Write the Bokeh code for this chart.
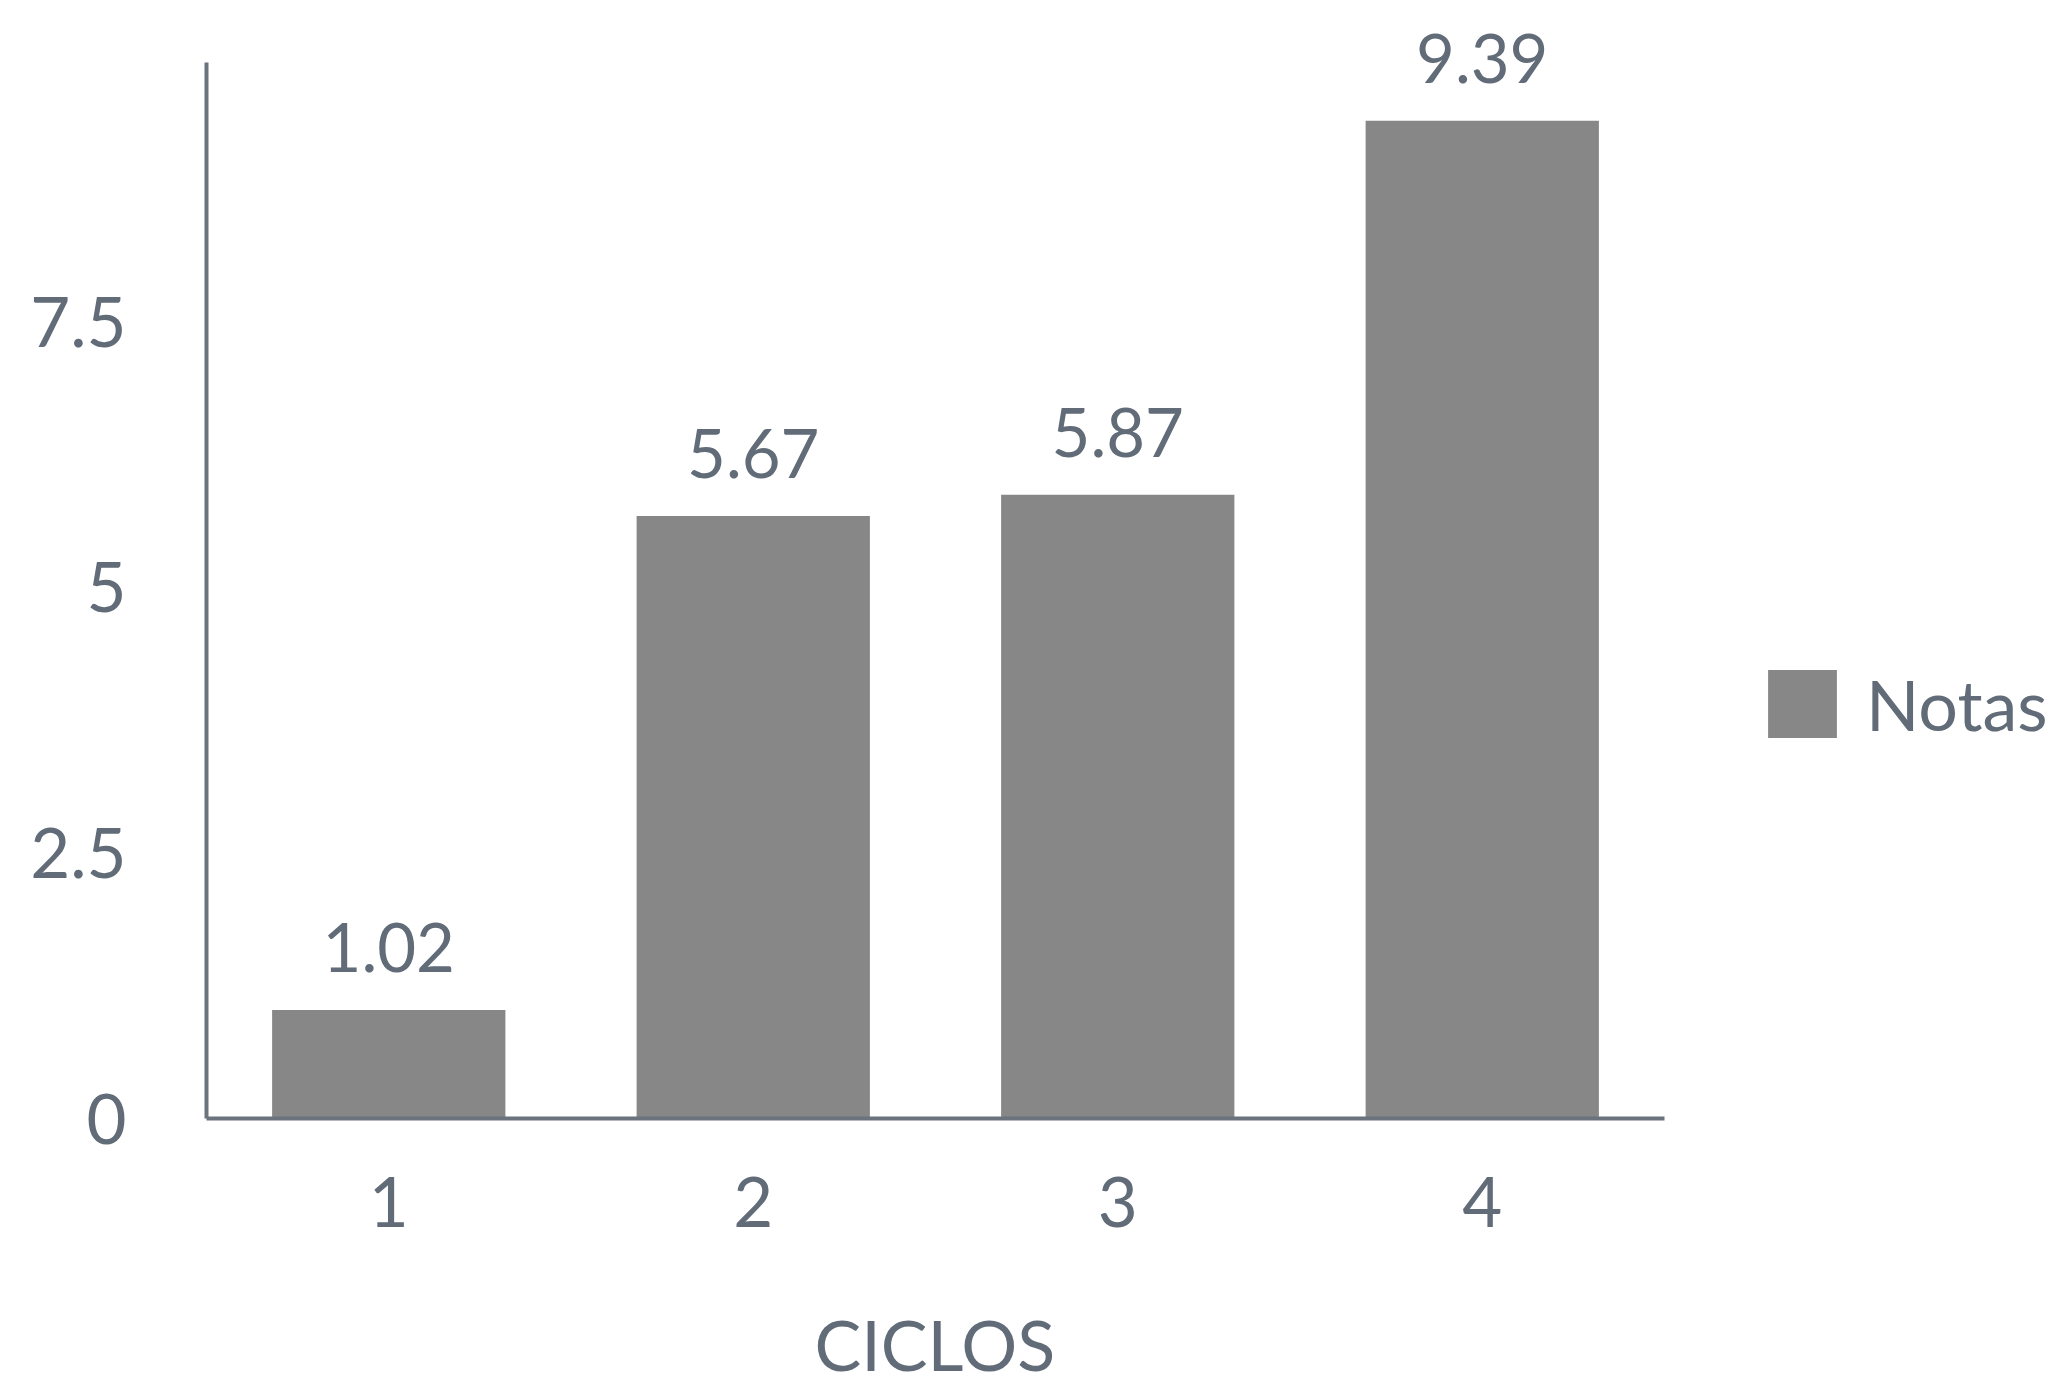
from bokeh.plotting import figure
from bokeh.models import (ColumnDataSource, Range1d, LabelSet, Legend, LegendItem, FixedTicker,
                          Title)
from bokeh.core.properties import value
from bokeh.embed import file_html
from bokeh.resources import INLINE

ciclos = [1, 2, 3, 4]
ciclo_labels = {1: "1", 2: "2", 3: "3", 4: "4"}
notas = [1.02, 5.67, 5.87, 9.39]
labels = ["1.02", "5.67", "5.87", "9.39"]
y_ticks = [0, 2.5, 5, 7.5]
y_tick_labels = {0: "0", 2.5: "2.5", 5: "5", 7.5: "7.5"}
x_title = "CICLOS"
series_name = "Notas"

TEXT = "#616c78"
AXIS = "#6a737e"
BAR = "#878787"
FONT = "Lato"

W, H = 2048, 1373
LEFT, BOTTOM = 206, 243
PX_PER_CAT = 364.5
PX_PER_UNIT = 107.4

src = ColumnDataSource(dict(x=ciclos, y=notas, lab=labels))

x_end = 0.5 + (W - LEFT) / PX_PER_CAT
y_end = (H - BOTTOM) / PX_PER_UNIT

p = figure(width=W, height=H, x_range=Range1d(0.5, x_end), y_range=Range1d(0, y_end),
           output_backend="svg", toolbar_location=None,
           min_border_left=LEFT, min_border_top=0, min_border_right=0, min_border_bottom=BOTTOM)
p.outline_line_color = None
p.grid.grid_line_color = None
p.background_fill_color = "white"
p.border_fill_color = "white"

r = p.vbar(x="x", top="y", width=0.64, source=src, fill_color=BAR, line_color=None)

p.add_layout(LabelSet(x="x", y="y", text="lab", source=src, y_offset=38,
                      text_align="center", text_baseline="alphabetic",
                      text_font=value(FONT), text_font_size="67px", text_color=TEXT))

for ax in (p.xaxis[0], p.yaxis[0]):
    ax.axis_line_color = AXIS
    ax.axis_line_width = 4
    ax.major_tick_line_color = None
    ax.minor_tick_line_color = None
    ax.major_tick_out = 0
    ax.major_tick_in = 0
    ax.major_label_text_font = FONT
    ax.major_label_text_color = TEXT

p.yaxis.bounds = (0, 9.94)
p.yaxis.ticker = FixedTicker(ticks=y_ticks)
p.yaxis.major_label_overrides = y_tick_labels
p.yaxis.major_label_text_font_size = "69px"
p.yaxis.major_label_standoff = 80

p.xaxis.bounds = (0.5, 4.5)
p.xaxis.ticker = FixedTicker(ticks=ciclos)
p.xaxis.major_label_overrides = ciclo_labels
p.xaxis.major_label_text_font_size = "69px"
p.xaxis.major_label_standoff = 58
p.xaxis.major_label_text_line_height = 1.0

# blank band between the tick labels and the x-axis title
p.add_layout(Title(text=" ", standoff=0, text_font=FONT, text_font_size="67px",
                   text_color=TEXT), "below")

# x-axis title, centred under the axis (not under the whole frame)
p.add_layout(Title(text=x_title, align="left", offset=608, standoff=-24,
                   text_font=FONT, text_font_size="70px", text_font_style="normal",
                   text_color=TEXT), "below")

legend = Legend(items=[LegendItem(label=series_name, renderers=[r])], location=(1553, 372),
                padding=0, margin=0, border_line_color=None, background_fill_alpha=0,
                glyph_width=86, glyph_height=85, label_standoff=21,
                label_text_font=FONT, label_text_font_size="70px", label_text_color=TEXT)
p.add_layout(legend, "center")

open("out.html", "w").write(file_html(p, INLINE))
